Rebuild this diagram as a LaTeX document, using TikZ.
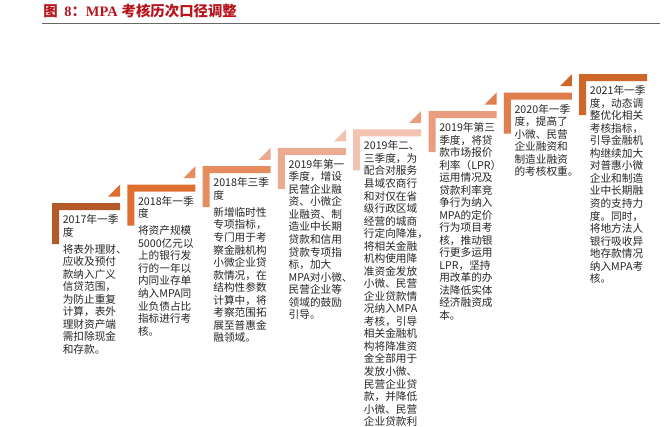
\documentclass[tikz,border=0pt]{standalone}
\usepackage{fontspec}
\usepackage{xcolor}
\usepackage{tikz}
\usetikzlibrary{positioning}
\newfontfamily\cjk{Noto Sans CJK SC}
\newfontfamily\titlelatin{Liberation Serif}
\definecolor{mparedtitle}{HTML}{B8141C}
\definecolor{mparule}{HTML}{666666}
\definecolor{mpatext}{HTML}{262626}
\definecolor{mpastepa}{HTML}{B45A28}
\definecolor{mpastepb}{HTML}{DD6F30}
\definecolor{mpastepc}{HTML}{E68C5E}
\definecolor{mpastepd}{HTML}{ECAB90}
\definecolor{mpastepe}{HTML}{F2C3B0}
\definecolor{mpastepf}{HTML}{E99D7E}
\definecolor{mpastepg}{HTML}{E07D4C}
\definecolor{mpasteph}{HTML}{CF662A}
\tikzset{
  stepnote/.style={anchor=base west, inner sep=0pt, text width=62pt, align=left,
    text=mpatext, font=\fontsize{8}{9.4}\selectfont\cjk}
}

\begin{document}
\begin{tikzpicture}[x=0.75pt, y=-0.75pt]
    \useasboundingbox (0,0) rectangle (671,426);
    \fill[white] (0,0) rectangle (671,426);

    % title
    \node[anchor=base west, inner sep=0pt, text=mparedtitle, font=\fontsize{10.8}{12}\selectfont\bfseries] (title) at (43,16)
        {{\cjk 图}\hspace{5pt}{\titlelatin 8}{\cjk ：}{\titlelatin MPA}\hspace{3pt}{\cjk 考核历次口径调整}};
    \draw[mparule, line width=1.1pt] (42,23.5) -- (660,23.5);

    % 2017
    \fill[mpastepa] (52,203) -- ++(68,0) -- ++(0,7) -- ++(-61,0) -- ++(0,34) -- ++(-7,0) -- cycle;
    \node[stepnote] (note2017) at (62.5,223.5) {2017年一季\\度\\[3.5pt]将表外理财、\\应收及预付\\款纳入广义\\信贷范围，\\为防止重复\\计算，表外\\理财资产端\\需扣除现金\\和存款。};

    % 2018 Q1
    \fill[mpastepb] (120,184.6) -- ++(0,12) -- ++(-12,0) -- cycle;
    \fill[mpastepb] (127.3,184.6) -- ++(68,0) -- ++(0,7) -- ++(-61,0) -- ++(0,34) -- ++(-7,0) -- cycle;
    \node[stepnote] (note2018a) at (137.8,205.1) {2018年一季\\度\\[3.5pt]将资产规模\\5000亿元以\\上的银行发\\行的一年以\\内同业存单\\纳入MPA同\\业负债占比\\指标进行考\\核。};

    % 2018 Q3
    \fill[mpastepc] (195.3,166.2) -- ++(0,12) -- ++(-12,0) -- cycle;
    \fill[mpastepc] (202.6,166.2) -- ++(68,0) -- ++(0,7) -- ++(-61,0) -- ++(0,34) -- ++(-7,0) -- cycle;
    \node[stepnote] (note2018c) at (213.1,186.7) {2018年三季\\度\\[3.5pt]新增临时性\\专项指标，\\专门用于考\\察金融机构\\小微企业贷\\款情况，在\\结构性参数\\计算中，将\\考察范围拓\\展至普惠金\\融领域。};

    % 2019 Q1
    \fill[mpastepd] (270.6,147.8) -- ++(0,12) -- ++(-12,0) -- cycle;
    \fill[mpastepd] (277.9,147.8) -- ++(68,0) -- ++(0,7) -- ++(-61,0) -- ++(0,34) -- ++(-7,0) -- cycle;
    \node[stepnote] (note2019a) at (288.4,168.3) {2019年第一\\季度，增设\\民营企业融\\资、小微企\\业融资、制\\造业中长期\\贷款和信用\\贷款专项指\\标，加大\\MPA对小微、\\民营企业等\\领域的鼓励\\引导。};

    % 2019 Q2-Q3
    \fill[mpastepe] (345.9,129.4) -- ++(0,12) -- ++(-12,0) -- cycle;
    \fill[mpastepe] (353.2,129.4) -- ++(68,0) -- ++(0,7) -- ++(-61,0) -- ++(0,34) -- ++(-7,0) -- cycle;
    \node[stepnote] (note2019b) at (363.7,149.9) {2019年二、\\三季度，为\\配合对服务\\县域农商行\\和对仅在省\\级行政区域\\经营的城商\\行定向降准，\\将相关金融\\机构使用降\\准资金发放\\小微、民营\\企业贷款情\\况纳入MPA\\考核，引导\\相关金融机\\构将降准资\\金全部用于\\发放小微、\\民营企业贷\\款，并降低\\小微、民营\\企业贷款利};

    % 2019 Q3
    \fill[mpastepf] (421.2,111) -- ++(0,12) -- ++(-12,0) -- cycle;
    \fill[mpastepf] (428.5,111) -- ++(68,0) -- ++(0,7) -- ++(-61,0) -- ++(0,34) -- ++(-7,0) -- cycle;
    \node[stepnote] (note2019c) at (439,131.5) {2019年第三\\季度，将贷\\款市场报价\\利率（LPR）\\运用情况及\\贷款利率竞\\争行为纳入\\MPA的定价\\行为项目考\\核，推动银\\行更多运用\\LPR，坚持\\用改革的办\\法降低实体\\经济融资成\\本。};

    % 2020
    \fill[mpastepg] (496.5,92.6) -- ++(0,12) -- ++(-12,0) -- cycle;
    \fill[mpastepg] (503.8,92.6) -- ++(68,0) -- ++(0,7) -- ++(-61,0) -- ++(0,34) -- ++(-7,0) -- cycle;
    \node[stepnote] (note2020) at (514.3,113.1) {2020年一季\\度，提高了\\小微、民营\\企业融资和\\制造业融资\\的考核权重。};

    % 2021
    \fill[mpasteph] (571.8,74.2) -- ++(0,12) -- ++(-12,0) -- cycle;
    \fill[mpasteph] (579.1,74.2) -- ++(68,0) -- ++(0,7) -- ++(-61,0) -- ++(0,34) -- ++(-7,0) -- cycle;
    \node[stepnote] (note2021) at (589.6,94.7) {2021年一季\\度，动态调\\整优化相关\\考核指标，\\引导金融机\\构继续加大\\对普惠小微\\企业和制造\\业中长期融\\资的支持力\\度。同时，\\将地方法人\\银行吸收异\\地存款情况\\纳入MPA考\\核。};
\end{tikzpicture}
\end{document}
